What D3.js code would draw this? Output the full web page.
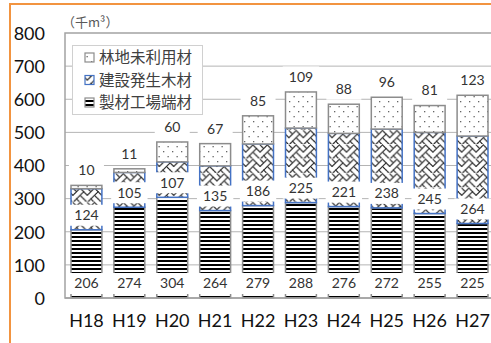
<!DOCTYPE html>
<html>
<head>
<meta charset="utf-8">
<script src="https://cdn.jsdelivr.net/npm/d3@7/dist/d3.min.js"></script>
<style>
  html, body { margin: 0; padding: 0; background: #fff; }
  svg { display: block; }
</style>
</head>
<body>
<svg id="chart" width="491" height="343"></svg>
<script>
// Woody biomass supply by fiscal year (thousand m³)
const years = ["H18", "H19", "H20", "H21", "H22", "H23", "H24", "H25", "H26", "H27"];
const sawmillResidue = [206, 274, 304, 264, 279, 288, 276, 272, 255, 225];   // 製材工場端材
const constructionWood = [124, 105, 107, 135, 186, 225, 221, 238, 245, 264];  // 建設発生木材
const forestResidue = [10, 11, 60, 67, 85, 109, 88, 96, 81, 123];             // 林地未利用材
const seriesNames = ["製材工場端材", "建設発生木材", "林地未利用材"];
const legendOrder = ["林地未利用材", "建設発生木材", "製材工場端材"];
const yTicks = [0, 100, 200, 300, 400, 500, 600, 700, 800];
const unitLabel = "（千m³）";

const svg = d3.select("#chart");
const W = 491, H = 343;
const plot = { left: 65, right: 494, top: 33, bottom: 298 };

const rows = years.map((yr, i) => ({
  year: yr,
  [seriesNames[0]]: sawmillResidue[i],
  [seriesNames[1]]: constructionWood[i],
  [seriesNames[2]]: forestResidue[i]
}));
const stacked = d3.stack().keys(seriesNames)(rows);

const x = d3.scaleBand().domain(years).range([plot.left, plot.right])
  .paddingInner(0.28).paddingOuter(0.14);
const y = d3.scaleLinear().domain([0, 800]).range([plot.bottom, plot.top]);

// ---- fill patterns ----
const defs = svg.append("defs");

// wide horizontal stripes
const stripes = defs.append("pattern").attr("id", "pat-stripes")
  .attr("patternUnits", "userSpaceOnUse").attr("width", 4).attr("height", 4);
stripes.append("rect").attr("width", 4).attr("height", 4).attr("fill", "#fff");
stripes.append("rect").attr("y", 0).attr("width", 4).attr("height", 2).attr("fill", "#000");

// weave, built from an 8x8 bitmap drawn as thin diagonal strokes
const weaveBits = [0x88, 0x54, 0x22, 0x45, 0x88, 0x14, 0x22, 0x51];
const ws = 1.8;
const weave = defs.append("pattern").attr("id", "pat-weave")
  .attr("patternUnits", "userSpaceOnUse").attr("width", 8 * ws).attr("height", 8 * ws);
weave.append("rect").attr("width", 8 * ws).attr("height", 8 * ws).attr("fill", "#fff");
const on = (c, r) => (weaveBits[((r % 8) + 8) % 8] & (0x80 >> (((c % 8) + 8) % 8))) !== 0;
const segs = [];
for (let r = 0; r < 8; r++) {
  for (let c = 0; c < 8; c++) {
    if (!on(c, r)) continue;
    if (on(c + 1, r + 1)) segs.push([c, r, c + 1, r + 1]);
    if (on(c - 1, r + 1)) segs.push([c, r, c - 1, r + 1]);
  }
}
[-8, 0, 8].forEach(ox => {
  segs.forEach(s => {
    weave.append("line")
      .attr("x1", (s[0] + 0.5 + ox) * ws).attr("y1", (s[1] + 0.5) * ws)
      .attr("x2", (s[2] + 0.5 + ox) * ws).attr("y2", (s[3] + 0.5) * ws)
      .attr("stroke", "#1a1a1a").attr("stroke-width", 1.0).attr("stroke-linecap", "round");
  });
});

// sparse dots
const dots = defs.append("pattern").attr("id", "pat-dots")
  .attr("patternUnits", "userSpaceOnUse").attr("width", 9).attr("height", 10);
dots.append("rect").attr("width", 9).attr("height", 10).attr("fill", "#fff");
dots.append("rect").attr("x", 1).attr("y", 1).attr("width", 1.3).attr("height", 1.3).attr("fill", "#666");
dots.append("rect").attr("x", 5.5).attr("y", 6).attr("width", 1.3).attr("height", 1.3).attr("fill", "#666");

const fills = {
  [seriesNames[0]]: "url(#pat-stripes)",
  [seriesNames[1]]: "url(#pat-weave)",
  [seriesNames[2]]: "url(#pat-dots)"
};
const strokes = {
  [seriesNames[0]]: "#8c8c8c",
  [seriesNames[1]]: "#4472c4",
  [seriesNames[2]]: "#8c8c8c"
};

// ---- outer frame ----
svg.append("rect").attr("x", 10).attr("y", 4).attr("width", W + 20).attr("height", H + 20)
  .attr("fill", "none").attr("stroke", "#f29440").attr("stroke-width", 2);

// ---- gridlines ----
svg.append("g").selectAll("line").data(yTicks.filter(t => t > 0 && t < 800)).join("line")
  .attr("x1", plot.left).attr("x2", plot.right)
  .attr("y1", d => y(d)).attr("y2", d => y(d))
  .attr("stroke", "#b4b4b4").attr("stroke-width", 1);

// plot area frame
svg.append("rect").attr("x", plot.left).attr("y", plot.top)
  .attr("width", plot.right - plot.left).attr("height", plot.bottom - plot.top)
  .attr("fill", "none").attr("stroke", "#a3a3a3").attr("stroke-width", 1.5);

// ---- y axis labels ----
const yAxis = d3.axisLeft(y).tickValues(yTicks).tickSize(0).tickPadding(0);
const gy = svg.append("g").attr("transform", "translate(45,0)").call(yAxis);
gy.select(".domain").remove();
gy.selectAll("text").attr("font-family", "Lato, 'Open Sans', sans-serif")
  .attr("font-size", 18).attr("fill", "#111").attr("dy", "0.35em");

// ---- x axis labels ----
const xAxis = d3.axisBottom(x).tickSize(0).tickPadding(0);
const gx = svg.append("g").attr("transform", "translate(0,321)").call(xAxis);
gx.select(".domain").remove();
gx.selectAll("text").attr("font-family", "Lato, 'Open Sans', sans-serif")
  .attr("font-size", 18).attr("fill", "#111").attr("dy", "0.35em");

// ---- bars ----
const barG = svg.append("g");
stacked.forEach(s => {
  barG.append("g").selectAll("rect").data(s).join("rect")
    .attr("x", d => x(d.data.year))
    .attr("y", d => y(d[1]))
    .attr("width", x.bandwidth())
    .attr("height", d => y(d[0]) - y(d[1]))
    .attr("fill", fills[s.key])
    .attr("stroke", strokes[s.key])
    .attr("stroke-width", 1.5);
});

// x axis line
svg.append("line").attr("x1", plot.left).attr("x2", plot.right)
  .attr("y1", plot.bottom).attr("y2", plot.bottom)
  .attr("stroke", "#a3a3a3").attr("stroke-width", 1.5);

// ---- value labels ----
const labelG = svg.append("g");
function addLabel(cx, cy, value) {
  const g = labelG.append("g").attr("transform", `translate(${cx},${cy})`);
  const t = g.append("text").attr("text-anchor", "middle").attr("dy", "0.35em")
    .attr("font-family", "Lato, 'Open Sans', sans-serif").attr("font-size", 14)
    .attr("fill", "#333").text(value);
  const w = t.node().getComputedTextLength();
  g.insert("rect", "text").attr("x", -Math.max(w + 12, 35) / 2).attr("y", -10.5)
    .attr("width", Math.max(w + 12, 35)).attr("height", 21).attr("fill", "#fff");
}
stacked.forEach((s, si) => {
  s.forEach(d => {
    const cx = x(d.data.year) + x.bandwidth() / 2;
    const val = d[1] - d[0];
    if (si < 2) addLabel(cx, y(d[0]) - 14.5, val);
    else addLabel(cx, y(d[1]) - 15, val);
  });
});

// ---- unit label ----
svg.append("text").attr("x", 62).attr("y", 22).attr("dy", "0.35em")
  .attr("font-family", "'Noto Sans CJK JP', sans-serif").attr("font-size", 13)
  .attr("fill", "#595959").text(unitLabel);

// ---- legend ----
const lg = svg.append("g");
lg.append("rect").attr("x", 72.5).attr("y", 45.5).attr("width", 130).attr("height", 69)
  .attr("fill", "#fff").attr("stroke", "#d0d0d0").attr("stroke-width", 1);
legendOrder.forEach((name, i) => {
  const cy = 57.5 + i * 22.5;
  lg.append("rect").attr("x", 85).attr("y", cy - 4.5).attr("width", 9).attr("height", 9)
    .attr("fill", fills[name]).attr("stroke", strokes[name]).attr("stroke-width", 1.2);
  lg.append("text").attr("x", 99).attr("y", cy).attr("dy", "0.36em")
    .attr("font-family", "'Noto Sans CJK JP', sans-serif").attr("font-size", 15.5)
    .attr("fill", "#404040").text(name);
});
</script>
</body>
</html>
